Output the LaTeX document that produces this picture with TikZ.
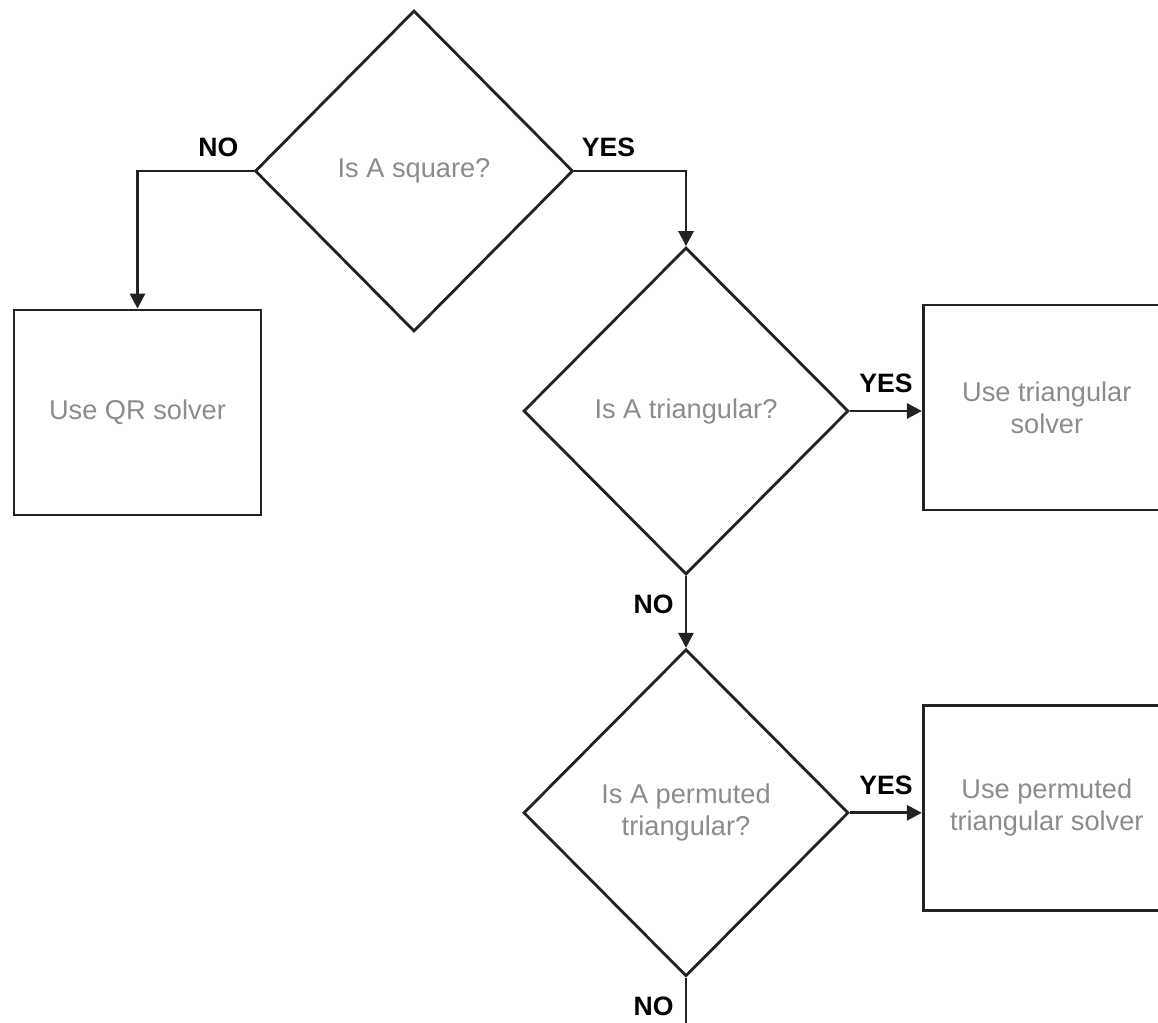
\documentclass[tikz,border=0pt]{standalone}
\usepackage{fontspec}
\setmainfont{Liberation Sans}
\usetikzlibrary{shapes.geometric,positioning,arrows.meta}

\definecolor{linegray}{HTML}{222222}
\definecolor{textgray}{HTML}{8C8C8C}

\tikzset{
	decision/.style={diamond, draw=linegray, line width=1.4pt, inner sep=0pt, align=center, text=textgray, font=\fontsize{13.6pt}{16pt}\selectfont},
	solver/.style={rectangle, draw=linegray, line width=1.4pt, minimum width=123.5pt, minimum height=102.5pt, align=center, text=textgray, font=\fontsize{13.6pt}{16pt}\selectfont},
	answer/.style={inner sep=0pt, text=black, font=\bfseries\fontsize{13.3pt}{16pt}\selectfont},
	flow/.style={draw=linegray, line width=1.4pt, -{Triangle[length=7.5pt,width=7.5pt]}},
}

\begin{document}
\begin{tikzpicture}[x=0.5pt, y=-0.5pt]
			
			% Page
			\fill[white] (0,0) rectangle (1158,1023);
			\useasboundingbox (0,0) rectangle (1158,1023);
			\clip (0,0) rectangle (1158,1023);
			
			% Define nodes
			\node[decision, minimum width=159pt, minimum height=160.5pt]  			(sq) at (414,171) {Is A square?};
			\node[solver]                                                   		(qr) at (137.5,412.5) {Use QR solver};
			
			\node[decision, minimum width=162.5pt, minimum height=163.5pt]  		(tri) at (686,411) {Is A triangular?};
			\node[solver, right=36pt of tri, yshift=1.75pt]  						(trisolve) {Use triangular\\solver};
			
			\node[decision, below=36pt of tri, minimum width=162.5pt, minimum height=163.5pt]  (perm) {Is A permuted\\triangular?};
			\node[solver, right=36pt of perm, yshift=2.5pt]  						(permsolve) {Use permuted\\triangular solver};
			
			\coordinate[below=36pt of perm]  										(next);
			
			% Connect the nodes
			\draw[flow] (sq.west) node[answer, above left=6.5pt and 7pt] {NO} -| (qr.north);
			\draw[flow] (sq.east) node[answer, above right=6.5pt and 3pt] {YES} -| (tri.north);
			\draw[flow] (tri.east) node[answer, above right=8.5pt and 4pt] {YES} -- (tri.east -| trisolve.west);
			\draw[flow] (tri.south) -- node[answer, pos=0.4, left=5.5pt] {NO} (perm.north);
			\draw[flow] (perm.east) node[answer, above right=8.5pt and 4pt] {YES} -- (perm.east -| permsolve.west);
			\draw[flow] (perm.south) -- node[answer, pos=0.4, left=5.5pt] {NO} (next);
			
\end{tikzpicture}
\end{document}
